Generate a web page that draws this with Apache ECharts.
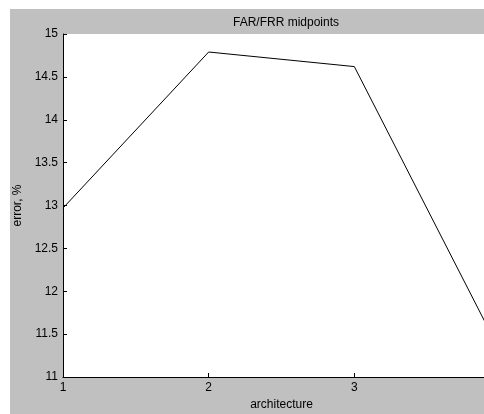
<!DOCTYPE html>
<html>
<head>
<meta charset="utf-8">
<script src="https://cdn.jsdelivr.net/npm/echarts@6/dist/echarts.min.js"></script>
<style>
    html, body { margin: 0; padding: 0; background: #fff; }
    #chart { width: 484px; height: 414px; }
</style>
</head>
<body>
<div id="chart"></div>
<script>
    // architecture numbers and midpoint error (%)
    var architectures = [1, 2, 3, 4];
    var errorValues = [12.97, 14.79, 14.62, 11.30];
    var yTicks = [11, 11.5, 12, 12.5, 13, 13.5, 14, 14.5, 15];

    var points = architectures.map(function (a, i) { return [a, errorValues[i]]; });

    var chart = echarts.init(document.getElementById('chart'));
    chart.setOption({
        backgroundColor: '#fff',
        animation: false,
        textStyle: { fontFamily: 'Liberation Sans, Arial, sans-serif' },
        graphic: [{
            type: 'rect',
            z: -10,
            shape: { x: 10, y: 9, width: 480, height: 410 },
            style: { fill: '#c0c0c0' }
        }],
        title: {
            text: 'FAR/FRR midpoints',
            left: 281,
            textAlign: 'center',
            top: 12,
            textStyle: { fontSize: 12, fontWeight: 'normal', color: '#000' }
        },
        grid: {
            left: 63,
            top: 34,
            right: -16,
            bottom: 37,
            outerBoundsMode: 'none',
            containLabel: false,
            show: true,
            backgroundColor: '#fff',
            borderWidth: 0
        },
        xAxis: {
            type: 'value',
            min: 1,
            max: 4,
            interval: 1,
            name: 'architecture',
            nameLocation: 'middle',
            nameGap: 21,
            nameTextStyle: { fontSize: 12, color: '#000' },
            axisLine: { show: true, lineStyle: { color: '#000', width: 1 } },
            axisTick: { show: true, inside: true, length: 4, lineStyle: { color: '#000' } },
            axisLabel: { fontSize: 12, color: '#000', margin: 5 },
            splitLine: { show: false }
        },
        yAxis: {
            type: 'value',
            min: 11,
            max: 15,
            interval: 0.5,
            name: 'error, %',
            nameLocation: 'middle',
            nameGap: 32,
            nameTextStyle: { fontSize: 12, color: '#000' },
            axisLine: { show: true, lineStyle: { color: '#000', width: 1 } },
            axisTick: { show: true, inside: true, length: 4, lineStyle: { color: '#000' } },
            axisLabel: {
                fontSize: 12, color: '#000', margin: 5,
                formatter: function (v) { return yTicks.indexOf(v) >= 0 ? String(v) : ''; }
            },
            splitLine: { show: false }
        },
        series: [{
            type: 'line',
            data: points,
            symbol: 'none',
            lineStyle: { color: '#000', width: 1 }
        }]
    });
</script>
</body>
</html>
